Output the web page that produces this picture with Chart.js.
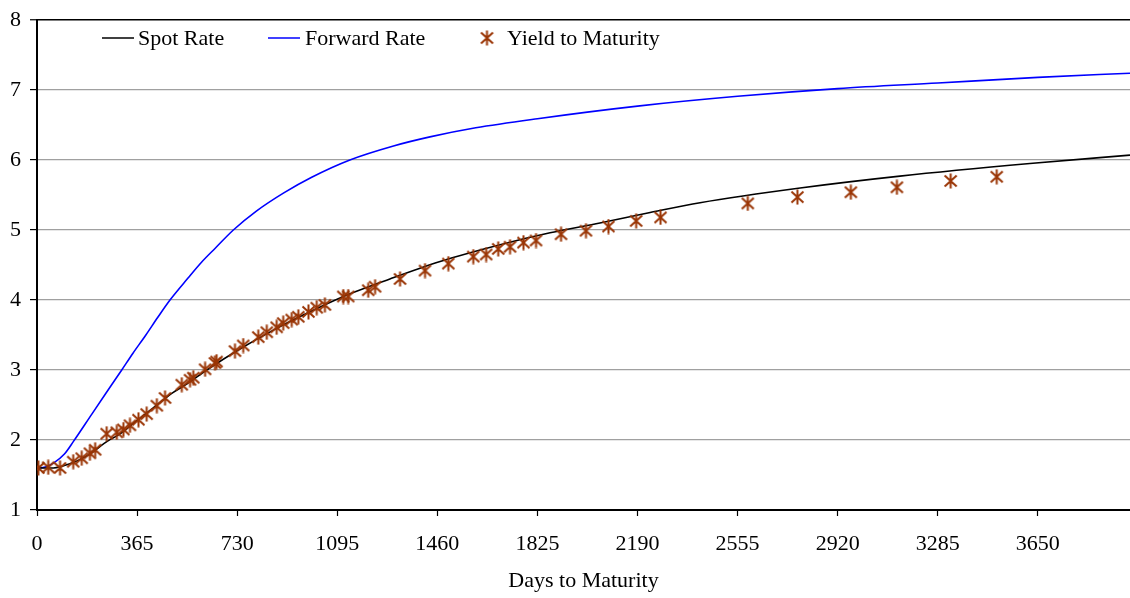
<!DOCTYPE html>
<html>
<head>
<meta charset="utf-8">
<script src="https://cdn.jsdelivr.net/npm/chart.js@4.4.0/dist/chart.umd.min.js"></script>
<style>
  html, body { margin: 0; padding: 0; background: #fff; overflow: hidden; }
  #wrap { width: 1130px; height: 598px; position: relative; }
</style>
</head>
<body>
<div id="wrap"><canvas id="chart"></canvas></div>
<script>
// --- Data ---
const xTicks = [0, 365, 730, 1095, 1460, 1825, 2190, 2555, 2920, 3285, 3650];
const yTicks = [1, 2, 3, 4, 5, 6, 7, 8];

const spotDays = [0, 60, 120, 180, 260, 300, 365, 424, 497, 546, 619, 740, 862, 984, 1105, 1287, 1470, 1689, 1871, 2053, 2236, 2418, 2783, 3147, 3621, 3986];
const spotRate = [1.60, 1.60, 1.66, 1.77, 1.99, 2.08, 2.28, 2.46, 2.68, 2.80, 3.00, 3.30, 3.57, 3.81, 4.03, 4.30, 4.55, 4.79, 4.96, 5.10, 5.25, 5.39, 5.60, 5.77, 5.95, 6.07];

const fwdDays = [0, 30, 60, 100, 133, 200, 250, 309, 350, 397, 440, 485, 550, 600, 650, 716, 800, 900, 1000, 1141, 1300, 1433, 1600, 1825, 2190, 2555, 2920, 3285, 3650, 3986];
const fwdRate = [1.60, 1.615, 1.67, 1.80, 1.98, 2.37, 2.66, 3.00, 3.24, 3.50, 3.75, 4.00, 4.31, 4.54, 4.74, 5.00, 5.27, 5.53, 5.75, 6.00, 6.20, 6.33, 6.46, 6.59, 6.77, 6.91, 7.02, 7.10, 7.18, 7.24];

const ytmDays = [5, 41, 84, 132, 163, 193, 212, 254, 291, 315, 339, 370, 400, 437, 467, 528, 558, 570, 613, 649, 655, 722, 752, 807, 838, 874, 898, 929, 953, 990, 1020, 1050, 1117, 1135, 1208, 1233, 1324, 1415, 1500, 1591, 1638, 1682, 1725, 1774, 1820, 1911, 2002, 2084, 2185, 2274, 2592, 2773, 2968, 3136, 3332, 3500];
const ytmRate = [1.60, 1.61, 1.60, 1.69, 1.74, 1.81, 1.86, 2.09, 2.11, 2.15, 2.21, 2.29, 2.37, 2.49, 2.60, 2.79, 2.86, 2.89, 3.01, 3.10, 3.12, 3.27, 3.35, 3.47, 3.54, 3.61, 3.67, 3.72, 3.76, 3.83, 3.89, 3.93, 4.05, 4.05, 4.14, 4.19, 4.30, 4.42, 4.52, 4.62, 4.65, 4.73, 4.76, 4.82, 4.85, 4.94, 4.99, 5.05, 5.13, 5.18, 5.38, 5.47, 5.54, 5.61, 5.70, 5.76];

const seriesNames = ['Spot Rate', 'Forward Rate', 'Yield to Maturity'];

const toPoints = (xs, ys) => xs.map((x, i) => ({ x, y: ys[i] }));

// asterisk marker (X with a vertical bar)
const markColor = '#9a3505';
function makeMarker() {
    const c = document.createElement('canvas');
    c.width = 15; c.height = 16;
    const g = c.getContext('2d');
    g.strokeStyle = markColor;
    g.lineWidth = 2;
    g.beginPath();
    g.moveTo(1.5, 2.5); g.lineTo(13.5, 13.5);
    g.moveTo(13.5, 2.5); g.lineTo(1.5, 13.5);
    g.moveTo(7.5, 0.5); g.lineTo(7.5, 15.5);
    g.stroke();
    return c;
}
const marker = makeMarker();

const fontFamily = "'Liberation Serif', 'Times New Roman', serif";

// legend drawn inside the plot area
const legendPlugin = {
    id: 'innerLegend',
    afterDraw(chart) {
        const ctx = chart.ctx;
        const y = 38;
        ctx.save();
        ctx.font = `22px ${fontFamily}`;
        ctx.fillStyle = '#000';
        ctx.textBaseline = 'middle';
        ctx.lineWidth = 1.5;

        ctx.strokeStyle = '#000';
        ctx.beginPath(); ctx.moveTo(102, y); ctx.lineTo(134, y); ctx.stroke();
        ctx.fillText(seriesNames[0], 138, y + 1);

        ctx.strokeStyle = '#0000ff';
        ctx.beginPath(); ctx.moveTo(268, y); ctx.lineTo(300, y); ctx.stroke();
        ctx.fillText(seriesNames[1], 305, y + 1);

        ctx.drawImage(marker, 487 - 7.5, y - 8);
        ctx.fillText(seriesNames[2], 507, y + 1);
        ctx.restore();
    }
};

new Chart(document.getElementById('chart'), {
    type: 'line',
    data: {
        datasets: [
            {
                label: seriesNames[2],
                data: toPoints(ytmDays, ytmRate),
                showLine: false,
                pointStyle: marker,
                pointRadius: 7,
                borderColor: markColor,
                backgroundColor: markColor
            },
            {
                label: seriesNames[0],
                data: toPoints(spotDays, spotRate),
                borderColor: '#000000',
                borderWidth: 1.6,
                pointRadius: 0,
                cubicInterpolationMode: 'monotone'
            },
            {
                label: seriesNames[1],
                data: toPoints(fwdDays, fwdRate),
                borderColor: '#0000ff',
                borderWidth: 1.6,
                pointRadius: 0,
                cubicInterpolationMode: 'monotone'
            }
        ]
    },
    options: {
        responsive: true,
        maintainAspectRatio: false,
        animation: false,
        layout: { autoPadding: false, padding: { top: 12, right: 0, left: 0, bottom: 0 } },
        plugins: {
            legend: { display: false },
            tooltip: { enabled: false }
        },
        scales: {
            x: {
                type: 'linear',
                min: 0,
                max: 3986,
                afterBuildTicks: s => { s.ticks = xTicks.map(v => ({ value: v })); },
                afterFit: s => { s.height = 88; s.paddingLeft = 0; s.paddingRight = 0; },
                ticks: {
                    color: '#000',
                    padding: 15,
                    maxRotation: 0,
                    autoSkip: false,
                    callback: v => String(v),
                    font: { family: fontFamily, size: 22, lineHeight: 1.2 }
                },
                grid: {
                    drawOnChartArea: false,
                    drawTicks: true,
                    tickLength: 6,
                    tickColor: '#000',
                    tickWidth: 1.2
                },
                border: { display: true, color: '#000', width: 2 },
                title: {
                    display: true,
                    text: 'Days to Maturity',
                    color: '#000',
                    padding: { top: 0, bottom: 4 },
                    font: { family: fontFamily, size: 22, lineHeight: 1.2 }
                }
            },
            y: {
                type: 'linear',
                min: 1,
                max: 8,
                afterBuildTicks: s => { s.ticks = yTicks.map(v => ({ value: v })); },
                afterFit: s => { s.width = 37; },
                ticks: {
                    color: '#000',
                    padding: 9,
                    callback: v => String(v),
                    font: { family: fontFamily, size: 22, lineHeight: 1 }
                },
                grid: {
                    color: c => (c.tick && c.tick.value === 8) ? '#000' : '#a0a0a0',
                    lineWidth: c => (c.tick && c.tick.value === 8) ? 1.5 : 1.2,
                    drawTicks: true,
                    tickLength: 7,
                    tickColor: '#000',
                    tickWidth: 1.2
                },
                border: { display: true, color: '#000', width: 2 }
            }
        }
    },
    plugins: [legendPlugin]
});
</script>
</body>
</html>
